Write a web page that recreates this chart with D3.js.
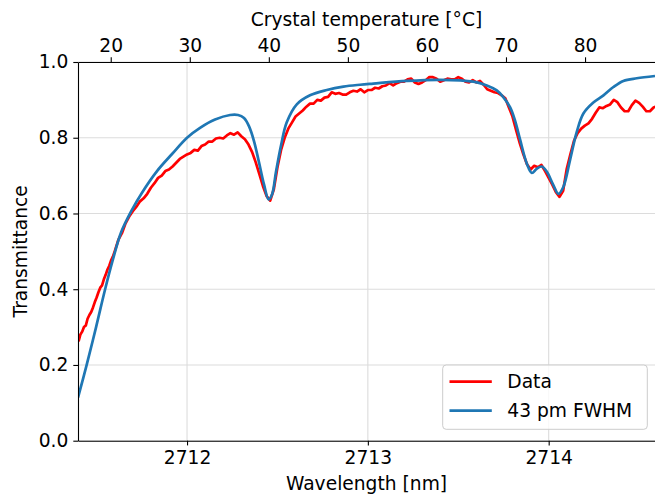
<!DOCTYPE html>
<html><head><meta charset="utf-8">
<script src="https://cdn.jsdelivr.net/npm/d3@7"></script>
<style>
html,body{margin:0;padding:0;background:#fff;}
text{font-family:"DejaVu Sans",sans-serif;fill:#000;}
</style></head>
<body>
<svg id="chart" width="655" height="495"></svg>
<script>
// ---- data ----
const xDomain = [2711.397, 2714.588];
const tempDomain = [15.86, 88.85];
const yDomain = [0, 1];
const wlTicks = [2712, 2713, 2714];
const tempTicks = [20, 30, 40, 50, 60, 70, 80];
const yTicks = [0, 0.2, 0.4, 0.6, 0.8, 1.0];
const seriesNames = ["Data", "43 pm FWHM"];
const seriesColors = ["#ff0000", "#1f77b4"];

const dataWl = [
2711.40,2711.41,2711.42,2711.43,2711.44,2711.45,2711.46,2711.47,2711.48,2711.49,
2711.50,2711.51,2711.52,2711.53,2711.54,2711.55,2711.56,2711.57,2711.58,2711.59,
2711.60,2711.62,2711.64,2711.66,2711.68,2711.70,2711.72,2711.74,2711.76,2711.78,
2711.80,2711.82,2711.84,2711.86,2711.88,2711.90,2711.92,2711.94,2711.96,2711.98,
2712.00,2712.02,2712.04,2712.06,2712.08,2712.10,2712.12,2712.14,2712.16,2712.18,
2712.20,2712.22,2712.24,2712.26,2712.28,2712.30,2712.32,2712.34,2712.36,2712.38,
2712.40,2712.42,2712.44,2712.46,2712.48,2712.50,2712.52,2712.54,2712.56,2712.58,
2712.60,2712.62,2712.64,2712.66,2712.68,2712.70,2712.72,2712.74,2712.76,2712.78,
2712.80,2712.82,2712.84,2712.86,2712.88,2712.90,2712.92,2712.94,2712.96,2712.98,
2713.00,2713.02,2713.04,2713.06,2713.08,2713.10,2713.12,2713.14,2713.16,2713.18,
2713.20,2713.22,2713.24,2713.26,2713.28,2713.30,2713.32,2713.34,2713.36,2713.38,
2713.40,2713.42,2713.44,2713.46,2713.48,2713.50,2713.52,2713.54,2713.56,2713.58,
2713.60,2713.62,2713.64,2713.66,2713.68,2713.70,2713.72,2713.74,2713.76,2713.78,
2713.80,2713.82,2713.84,2713.86,2713.88,2713.90,2713.92,2713.94,2713.96,2713.98,
2714.00,2714.02,2714.04,2714.06,2714.08,2714.10,2714.12,2714.14,2714.16,2714.18,
2714.20,2714.22,2714.24,2714.26,2714.28,2714.30,2714.32,2714.34,2714.36,2714.38,
2714.40,2714.42,2714.44,2714.46,2714.48,2714.50,2714.52,2714.54,2714.56,2714.58,2714.59
];
const dataT = [
0.262,0.280,0.288,0.300,0.304,0.322,0.332,0.340,0.352,0.366,
0.378,0.392,0.404,0.410,0.426,0.438,0.452,0.462,0.476,0.486,
0.500,0.530,0.548,0.574,0.592,0.606,0.618,0.632,0.640,0.652,
0.668,0.680,0.694,0.700,0.712,0.716,0.724,0.734,0.744,0.750,
0.756,0.760,0.768,0.766,0.778,0.782,0.790,0.790,0.798,0.800,
0.798,0.806,0.812,0.808,0.814,0.804,0.796,0.782,0.762,0.735,
0.704,0.672,0.646,0.634,0.664,0.722,0.768,0.800,0.824,0.840,
0.856,0.864,0.872,0.882,0.890,0.890,0.900,0.898,0.906,0.908,
0.920,0.916,0.918,0.914,0.914,0.920,0.924,0.922,0.928,0.920,
0.926,0.926,0.932,0.930,0.936,0.938,0.944,0.938,0.944,0.948,
0.948,0.954,0.956,0.946,0.942,0.946,0.952,0.960,0.960,0.956,
0.948,0.952,0.956,0.954,0.954,0.960,0.956,0.948,0.946,0.952,
0.946,0.950,0.940,0.928,0.924,0.920,0.918,0.912,0.904,0.880,
0.856,0.820,0.786,0.756,0.730,0.716,0.726,0.722,0.728,0.712,
0.694,0.676,0.656,0.644,0.660,0.718,0.756,0.792,0.812,0.824,
0.832,0.838,0.850,0.866,0.880,0.878,0.884,0.888,0.900,0.894,
0.880,0.870,0.870,0.886,0.898,0.892,0.882,0.870,0.870,0.880,0.882
];

const fitWl = [
2711.397,2711.445,2711.497,2711.547,2711.591,2711.635,2711.690,2711.751,2711.834,2711.917,
2712.000,2712.072,2712.155,2712.238,2712.282,2712.315,2712.343,2712.371,2712.398,2712.426,
2712.451,2712.470,2712.492,2712.520,2712.551,2712.607,2712.680,2712.773,2712.865,2712.957,
2713.030,2713.215,2713.399,2713.584,2713.658,2713.713,2713.748,2713.787,2713.814,2713.842,
2713.879,2713.907,2713.934,2713.962,2713.990,2714.026,2714.054,2714.081,2714.118,2714.155,
2714.192,2714.247,2714.303,2714.358,2714.413,2714.487,2714.588
];
const fitT = [
0.114,0.200,0.300,0.400,0.480,0.550,0.605,0.655,0.712,0.757,
0.800,0.826,0.848,0.860,0.860,0.852,0.830,0.790,0.735,0.676,
0.637,0.650,0.710,0.780,0.840,0.888,0.912,0.926,0.935,0.940,
0.943,0.950,0.953,0.948,0.938,0.925,0.908,0.880,0.845,0.795,
0.732,0.707,0.718,0.724,0.710,0.675,0.652,0.670,0.741,0.815,
0.864,0.893,0.912,0.934,0.950,0.957,0.963
];

// ---- layout ----
const svg = d3.select("#chart");
const L = 78, R = 655, T = 62, B = 440.7;
const fs = 18.67;
const x = d3.scaleLinear().domain(xDomain).range([L, R]);
const xt = d3.scaleLinear().domain(tempDomain).range([L, R]);
const y = d3.scaleLinear().domain(yDomain).range([B, T]);

const defs = svg.append("defs");
defs.append("clipPath").attr("id","clip").append("rect")
  .attr("x", L).attr("y", T).attr("width", R - L).attr("height", B - T);

// grid
const grid = svg.append("g");
grid.selectAll(".gx").data(wlTicks).enter().append("line")
  .attr("x1", d => x(d)).attr("x2", d => x(d)).attr("y1", T).attr("y2", B)
  .attr("stroke", "#dcdcdc").attr("stroke-width", 1.1);
grid.selectAll(".gy").data(yTicks).enter().append("line")
  .attr("x1", L).attr("x2", R).attr("y1", d => y(d)).attr("y2", d => y(d))
  .attr("stroke", "#dcdcdc").attr("stroke-width", 1.1);

// lines
const plot = svg.append("g").attr("clip-path", "url(#clip)");
const redPts = dataWl.map((w, i) => [w, dataT[i]]);
const bluePts = fitWl.map((w, i) => [w, fitT[i]]);
plot.append("path").datum(redPts)
  .attr("d", d3.line().x(d => x(d[0])).y(d => y(d[1])))
  .attr("fill", "none").attr("stroke", seriesColors[0]).attr("stroke-width", 2.7)
  .attr("stroke-linejoin", "round");
plot.append("path").datum(bluePts)
  .attr("d", d3.line().x(d => x(d[0])).y(d => y(d[1])).curve(d3.curveCatmullRom.alpha(0.5)))
  .attr("fill", "none").attr("stroke", seriesColors[1]).attr("stroke-width", 2.7)
  .attr("stroke-linejoin", "round");

// axes
function styleAxis(g) {
  g.selectAll(".domain").attr("stroke", "#000").attr("stroke-width", 1.1);
  g.selectAll(".tick line").attr("stroke", "#000").attr("stroke-width", 1.1);
  g.selectAll(".tick text").style("font-family", "DejaVu Sans").style("font-size", fs + "px");
}
const gb = svg.append("g").attr("transform", `translate(0,${B})`)
  .call(d3.axisBottom(x).tickValues(wlTicks).tickFormat(d3.format("d")).tickSizeInner(4.7).tickSizeOuter(0).tickPadding(5));
styleAxis(gb);
const gt = svg.append("g").attr("transform", `translate(0,${T})`)
  .call(d3.axisTop(xt).tickValues(tempTicks).tickFormat(d3.format("d")).tickSizeInner(4.7).tickSizeOuter(0).tickPadding(5));
styleAxis(gt);
const gl = svg.append("g").attr("transform", `translate(${L},0)`)
  .call(d3.axisLeft(y).tickValues(yTicks).tickFormat(d3.format(".1f")).tickSizeInner(4.7).tickSizeOuter(0).tickPadding(5));
styleAxis(gl);

// axis labels
svg.append("text").attr("x", (L + R) / 2).attr("y", 490).attr("text-anchor", "middle")
  .style("font-size", fs + "px").text("Wavelength [nm]");
svg.append("text").attr("x", (L + R) / 2).attr("y", 26).attr("text-anchor", "middle")
  .style("font-size", fs + "px").text("Crystal temperature [°C]");
svg.append("text").attr("transform", `translate(27,${(T + B) / 2}) rotate(-90)`).attr("text-anchor", "middle")
  .style("font-size", fs + "px").text("Transmittance");

// legend
const lg = svg.append("g");
lg.append("rect").attr("x", 442.7).attr("y", 365).attr("width", 204.6).attr("height", 64.3)
  .attr("rx", 3.5).attr("fill", "#fff").attr("fill-opacity", 0.8)
  .attr("stroke", "#cccccc").attr("stroke-width", 1);
seriesNames.forEach((name, i) => {
  const yy = 381.7 + i * 29;
  lg.append("line").attr("x1", 449.5).attr("x2", 491.8).attr("y1", yy).attr("y2", yy)
    .attr("stroke", seriesColors[i]).attr("stroke-width", 2.7);
  lg.append("text").attr("x", 507.3).attr("y", yy).attr("dy", "0.36em")
    .style("font-size", fs + "px").text(name);
});
</script>
</body></html>
